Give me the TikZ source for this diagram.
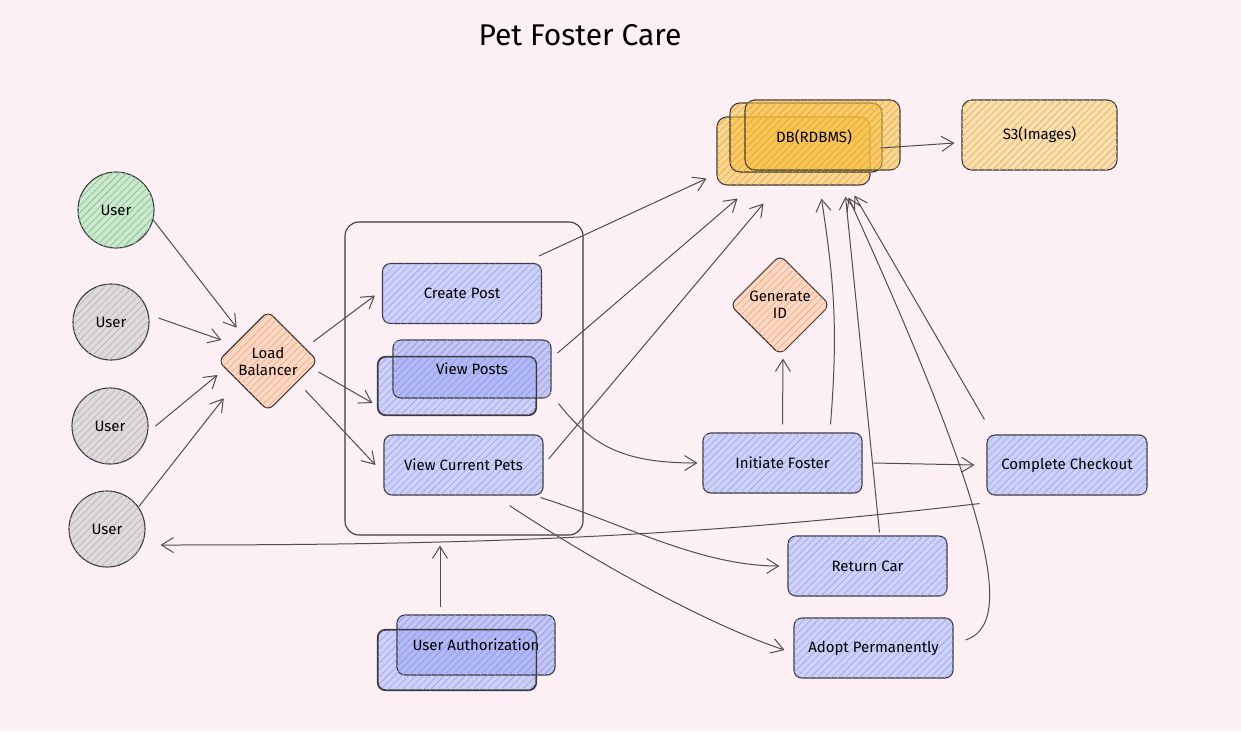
\documentclass[tikz,border=0pt]{standalone}
\usepackage{fontspec}
\setmainfont{Fira Sans}
\usetikzlibrary{shapes.geometric,arrows.meta,patterns.meta}

\definecolor{bgpink}{HTML}{FDF0F4}
\definecolor{inkgray}{HTML}{3A3A3A}
\definecolor{boxfill}{HTML}{CDD0F7}
\definecolor{boxdeep}{HTML}{A2AAF2}
\definecolor{boxhatch}{HTML}{98A0F0}
\definecolor{grayfill}{HTML}{DEDADE}
\definecolor{grayhatch}{HTML}{B5B1B5}
\definecolor{greenfill}{HTML}{CBEACD}
\definecolor{greenhatch}{HTML}{8ACB96}
\definecolor{orangefill}{HTML}{FDD8C4}
\definecolor{orangehatch}{HTML}{F4A579}
\definecolor{dbfill}{HTML}{F7C24C}
\definecolor{dbhatch}{HTML}{EFA91E}
\definecolor{sthreefill}{HTML}{FCE0A8}
\definecolor{sthreehatch}{HTML}{F5C261}

\newcommand{\lblfont}{\fontsize{15}{17}\selectfont}
\newcommand{\ttlfont}{\fontsize{30}{34}\selectfont}

\begin{document}
\begin{tikzpicture}[x=1pt,y=-1pt,
  hatched/.style 2 args={fill=#1,postaction={pattern={Lines[angle=45,distance=5pt,line width=0.6pt]},pattern color=#2}},
  userstyle/.style={circle,draw=inkgray,line width=1.1pt,minimum size=76pt,font=\lblfont,hatched={grayfill}{grayhatch}},
  diamondstyle/.style={diamond,draw=inkgray,line width=1.1pt,minimum width=100pt,minimum height=100pt,inner sep=0pt,rounded corners=7pt,align=center,font=\lblfont,hatched={orangefill}{orangehatch}},
  boxstyle/.style={rectangle,draw=inkgray,line width=1.1pt,rounded corners=8pt,minimum width=159pt,minimum height=60pt,font=\lblfont,hatched={boxfill}{boxhatch}},
  frontstyle/.style={boxstyle,minimum width=158pt,hatched={boxdeep}{boxhatch},fill opacity=0.6,text opacity=1},
  outlinestyle/.style={draw=inkgray,line width=1.1pt,rounded corners=8pt},
  dbstyle/.style={rectangle,draw=inkgray,line width=1.1pt,rounded corners=10pt,fill opacity=0.55,text opacity=1,hatched={dbfill}{dbhatch}},
  arrowstyle/.style={draw=inkgray!90,line width=1pt,-{Straight Barb[length=12pt,width=15pt]}}]

\useasboundingbox[fill=bgpink] (0,0) rectangle (1241,731);

\node[font=\ttlfont] (title) at (580,35) {Pet Foster Care};

% users and load balancer
\node[userstyle,hatched={greenfill}{greenhatch}] (user1) at (116,210) {User};
\foreach \i/\x/\y in {2/111/322,3/110/426,4/107/529} {
  \node[userstyle] (user\i) at (\x,\y) {User};
}
\node[diamondstyle] (lb) at (268,361) {Load\\Balancer};

% services
\node[draw=inkgray,line width=1.1pt,rounded corners=14pt,minimum width=238pt,minimum height=313pt] (container) at (464,378.5) {};
\node[boxstyle] (createpost) at (462,293.5) {Create Post};
\node[boxstyle,minimum width=158pt,minimum height=58pt] (vpback) at (457,386) {};
\node[frontstyle,minimum height=58pt] (vp) at (472,369) {View Posts};
\draw[outlinestyle] (vpback.south west) rectangle (vpback.north east);
\node[boxstyle] (viewpets) at (463.5,465) {View Current Pets};

\node[boxstyle,minimum width=158pt] (uaback) at (457,660) {};
\node[frontstyle] (ua) at (476,645) {User Authorization};
\draw[outlinestyle] (uaback.south west) rectangle (uaback.north east);

% storage
\node[dbstyle,minimum width=153pt,minimum height=68pt] (dba) at (793.5,151) {};
\node[dbstyle,minimum width=152pt,minimum height=69pt] (dbb) at (806,137.5) {};
\node[dbstyle,minimum width=155pt,minimum height=70pt] (dbc) at (822.5,135) {};
\node[font=\lblfont] (db) at (814,137) {DB(RDBMS)};
\node[boxstyle,rounded corners=10pt,minimum width=155pt,minimum height=70pt,hatched={sthreefill}{sthreehatch}] (sthree) at (1039.5,135) {S3(Images)};

% foster flow
\node[diamondstyle] (genid) at (780,305) {Generate\\ID};
\node[boxstyle] (initfoster) at (782.5,463) {Initiate Foster};
\node[boxstyle,minimum width=160pt] (checkout) at (1067,465) {Complete Checkout};
\node[boxstyle] (returncar) at (867.5,566) {Return Car};
\node[boxstyle] (adopt) at (873.5,648) {Adopt Permanently};

% connectors
\draw[arrowstyle] (user1.-15) -- ([shift={(-6pt,8pt)}]lb.north west);
\draw[arrowstyle] ([shift={(9pt,4pt)}]user2.east) -- ([shift={(4pt,21pt)}]lb.west);
\draw[arrowstyle] ([xshift=7pt]user3.east) -- ([yshift=-14pt]lb.west);
\draw[arrowstyle] (user4.35) -- ([shift={(-19pt,-12pt)}]lb.south west);
\draw[arrowstyle] ([shift={(20pt,-6pt)}]lb.north east) -- ([shift={(-7pt,-2pt)}]createpost.west);
\draw[arrowstyle] ([shift={(0pt,-11pt)}]lb.east) -- ([shift={(-5pt,-17pt)}]vpback.west);
\draw[arrowstyle] ([shift={(12pt,-4pt)}]lb.south east) -- ([xshift=-8pt]viewpets.west);

\draw[arrowstyle] ([shift={(-3pt,7pt)}]createpost.north east) -- ([shift={(-87pt,7pt)}]dba.south);
\draw[arrowstyle] ([shift={(6pt,16pt)}]vp.east) -- ([shift={(-56pt,-13pt)}]dba.south);
\draw[arrowstyle] ([shift={(5pt,6pt)}]viewpets.east) -- ([shift={(-30pt,-18pt)}]dba.south);
\draw[arrowstyle] ([shift={(7pt,-5pt)}]vp.south east) .. controls +(35,45) and +(-70,0) .. ([xshift=-5pt]initfoster.west);
\draw[arrowstyle] ([yshift=8pt]initfoster.north) -- ([shift={(3pt,-3pt)}]genid.south);
\draw[arrowstyle] ([shift={(48pt,8pt)}]initfoster.north) .. controls +(8,-100) and +(12,80) .. ([shift={(28pt,-13pt)}]dba.south);
\draw[arrowstyle] ([xshift=11pt]initfoster.east) -- ([xshift=-12pt]checkout.west);
\draw[arrowstyle] ([shift={(12pt,3pt)}]returncar.north) -- ([shift={(52pt,-11pt)}]dba.south);
\draw[arrowstyle] ([shift={(12pt,8pt)}]adopt.east) .. controls +(45,-15) and +(155,340) .. ([shift={(55pt,-12pt)}]dba.south);
\draw[arrowstyle] ([shift={(-2pt,15pt)}]checkout.north west) -- ([shift={(61pt,-10pt)}]dba.south);
\draw[arrowstyle] ([shift={(-7pt,-8pt)}]checkout.south west) .. controls +(-300,35) and +(300,0) .. ([shift={(15pt,-16pt)}]user4.east);
\draw[arrowstyle] ([shift={(-3pt,-2pt)}]viewpets.south east) .. controls +(80,25) and +(-80,0) .. ([xshift=-8pt]returncar.west);
\draw[arrowstyle] ([shift={(46pt,-10pt)}]viewpets.south) .. controls +(60,40) and +(-90,-30) .. ([shift={(-9pt,-2pt)}]adopt.west);
\draw[arrowstyle] ([shift={(-36pt,7pt)}]ua.north) -- ([shift={(-24pt,-10pt)}]container.south);
\draw[arrowstyle] ([shift={(-20pt,-13pt)}]dbc.east) -- ([shift={(-7pt,-8pt)}]sthree.west);

\end{tikzpicture}
\end{document}
